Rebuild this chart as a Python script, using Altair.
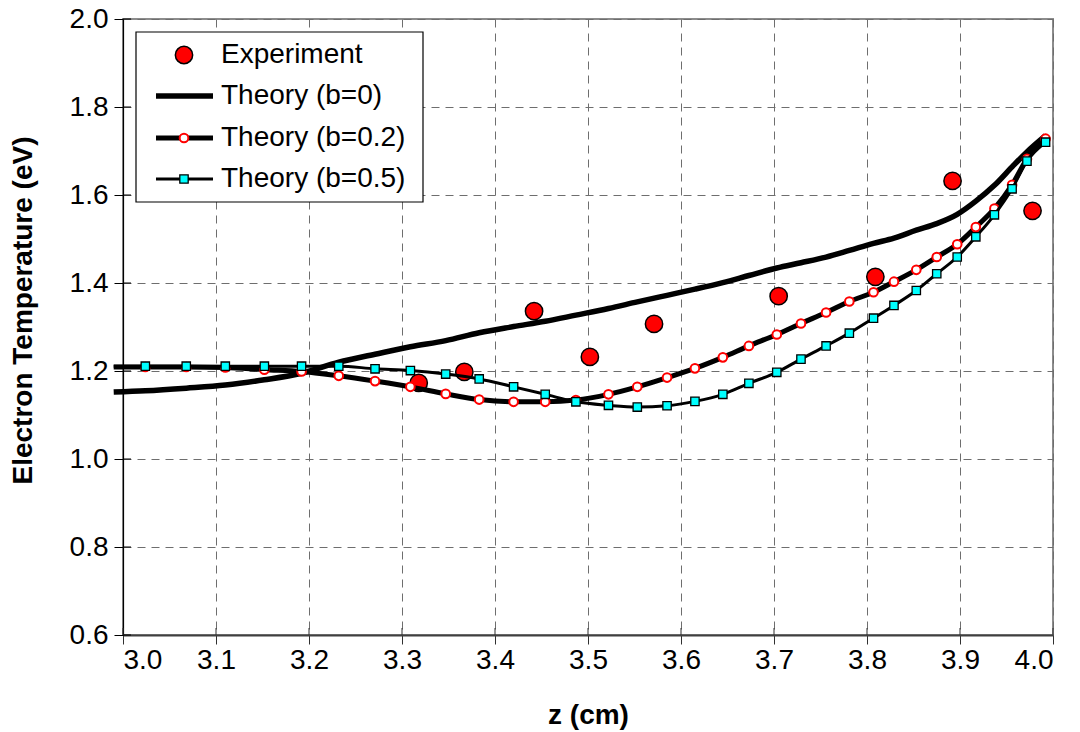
import altair as alt
import pandas as pd

# ---------------- data ----------------
z_exp = [3.318, 3.367, 3.442, 3.502, 3.571, 3.705, 3.809, 3.892, 3.978]
t_exp = [1.173, 1.198, 1.336, 1.232, 1.307, 1.370, 1.414, 1.632, 1.564]

z_theory = [2.990, 3.024, 3.068, 3.110, 3.152, 3.192, 3.232, 3.271, 3.309, 3.347,
            3.383, 3.420, 3.454, 3.487, 3.522, 3.553, 3.585, 3.615, 3.645, 3.673,
            3.703, 3.729, 3.756, 3.781, 3.807, 3.829, 3.853, 3.875, 3.897, 3.917,
            3.937, 3.956, 3.972, 3.992]

t_b0 = [1.152, 1.155, 1.161, 1.168, 1.180, 1.195, 1.220, 1.238, 1.255, 1.269,
        1.287, 1.301, 1.313, 1.327, 1.342, 1.357, 1.372, 1.386, 1.401, 1.417,
        1.434, 1.446, 1.459, 1.474, 1.490, 1.502, 1.520, 1.535, 1.556, 1.586,
        1.622, 1.664, 1.698, 1.735]

t_b02 = [1.209, 1.209, 1.209, 1.208, 1.203, 1.199, 1.189, 1.177, 1.164, 1.148,
         1.135, 1.130, 1.130, 1.134, 1.147, 1.164, 1.185, 1.206, 1.231, 1.257,
         1.283, 1.308, 1.333, 1.358, 1.379, 1.403, 1.430, 1.459, 1.488, 1.527,
         1.569, 1.623, 1.682, 1.728]

t_b05 = [1.211, 1.211, 1.211, 1.211, 1.211, 1.211, 1.211, 1.205, 1.201, 1.193,
         1.182, 1.164, 1.147, 1.130, 1.122, 1.118, 1.121, 1.131, 1.147, 1.172,
         1.197, 1.227, 1.257, 1.286, 1.320, 1.349, 1.383, 1.421, 1.459, 1.505,
         1.555, 1.614, 1.677, 1.720]

x_ticks = [3.0, 3.1, 3.2, 3.3, 3.4, 3.5, 3.6, 3.7, 3.8, 3.9, 4.0]
y_ticks = [0.6, 0.8, 1.0, 1.2, 1.4, 1.6, 1.8, 2.0]

legend_labels = ["Experiment", "Theory (b=0)", "Theory (b=0.2)", "Theory (b=0.5)"]

# ---------------- tables ----------------
df_exp = pd.DataFrame({"z": z_exp, "T": t_exp})
df_b0 = pd.DataFrame({"z": z_theory, "T": t_b0})
df_b02 = pd.DataFrame({"z": z_theory, "T": t_b02})
df_b05 = pd.DataFrame({"z": z_theory, "T": t_b05})
df_xt = pd.DataFrame({"z": x_ticks})
df_yt = pd.DataFrame({"T": y_ticks})

FONT = "Liberation Sans"
W, H = 930, 616

x_scale = alt.Scale(domain=[3.0, 4.0], nice=False, zero=False)
y_scale = alt.Scale(domain=[0.6, 2.0], nice=False, zero=False)

x_axis = alt.Axis(title="z (cm)", values=x_ticks, format=".1f", grid=True,
                  gridDash=[8, 6], gridColor="#6e6e6e", gridWidth=1,
                  domainColor="#404040", domainWidth=2,
                  tickColor="#303030", tickSize=9, tickWidth=1,
                  labelPadding=2, labelFontSize=28, labelFont=FONT, labelColor="black",
                  titleFontSize=28, titleFont=FONT, titleFontWeight="bold", titleColor="black",
                  titleY=80, titleBaseline="middle")
y_axis = alt.Axis(title="Electron Temperature (eV)", values=y_ticks, format=".1f", grid=True,
                  gridDash=[8, 6], gridColor="#6e6e6e", gridWidth=1,
                  domainColor="black", domainWidth=1.2,
                  tickColor="black", tickSize=9, tickWidth=1,
                  labelPadding=6, labelFontSize=28, labelFont=FONT, labelColor="black",
                  titleFontSize=28, titleFont=FONT, titleFontWeight="bold", titleColor="black",
                  titleX=-100, titleY=291, titleAngle=270, titleAlign="center",
                  titleBaseline="middle")

X = alt.X("z:Q", scale=x_scale, axis=x_axis)
Y = alt.Y("T:Q", scale=y_scale, axis=y_axis)

exp_pts = alt.Chart(df_exp).mark_point(shape="circle", filled=True, fill="#FF0000",
                                       stroke="black", strokeWidth=1.5, size=300,
                                       opacity=1).encode(x=X, y=Y)

line_b0 = alt.Chart(df_b0).mark_line(color="black", strokeWidth=5.5,
                                     interpolate="monotone").encode(x=X, y=Y)

line_b02 = alt.Chart(df_b02).mark_line(color="black", strokeWidth=5,
                                       interpolate="monotone").encode(x=X, y=Y)
pts_b02 = alt.Chart(df_b02).transform_filter("datum.z >= 3").mark_point(
    shape="circle", filled=True, fill="white", stroke="#FF0000", strokeWidth=2,
    size=75, opacity=1).encode(x=X, y=Y)

line_b05 = alt.Chart(df_b05).mark_line(color="black", strokeWidth=3,
                                       interpolate="monotone").encode(x=X, y=Y)
pts_b05 = alt.Chart(df_b05).transform_filter("datum.z >= 3").mark_point(
    shape="square", filled=True, fill="#00FFFF", stroke="black", strokeWidth=1.3,
    size=70, opacity=1).encode(x=X, y=Y)

# inner halves of the crossing tick marks
inner_y = alt.Chart(df_yt).mark_rule(color="black", strokeWidth=1).encode(
    y=Y, x=alt.value(0), x2=alt.value(8))
inner_x = alt.Chart(df_xt).mark_rule(color="#303030", strokeWidth=1).encode(
    x=X, y=alt.value(H - 7), y2=alt.value(H))

# ---------------- manual legend ----------------
one = alt.Data(values=[{}])
leg_box = alt.Chart(one).mark_rect(fill="white", stroke="black", strokeWidth=1.2).encode(
    x=alt.value(13), x2=alt.value(300), y=alt.value(13), y2=alt.value(183))

row_y = [36, 77, 119, 160]
sym_x0, sym_x1, sym_xc, text_x = 33, 90, 61, 98

leg_layers = [leg_box]
for lab, ry in zip(legend_labels, row_y):
    leg_layers.append(alt.Chart(one).mark_text(align="left", baseline="middle", font=FONT,
                                               fontSize=28, color="black").encode(
        x=alt.value(text_x), y=alt.value(ry), text=alt.value(lab)))

leg_layers.append(alt.Chart(one).mark_point(shape="circle", filled=True, fill="#FF0000",
                                            stroke="black", strokeWidth=1.5, size=300,
                                            opacity=1).encode(
    x=alt.value(sym_xc), y=alt.value(row_y[0])))
leg_layers.append(alt.Chart(one).mark_rule(color="black", strokeWidth=5.5).encode(
    x=alt.value(sym_x0), x2=alt.value(sym_x1), y=alt.value(row_y[1])))
leg_layers.append(alt.Chart(one).mark_rule(color="black", strokeWidth=5).encode(
    x=alt.value(sym_x0), x2=alt.value(sym_x1), y=alt.value(row_y[2])))
leg_layers.append(alt.Chart(one).mark_point(shape="circle", filled=True, fill="white",
                                            stroke="#FF0000", strokeWidth=2, size=75,
                                            opacity=1).encode(
    x=alt.value(sym_xc), y=alt.value(row_y[2])))
leg_layers.append(alt.Chart(one).mark_rule(color="black", strokeWidth=3).encode(
    x=alt.value(sym_x0), x2=alt.value(sym_x1), y=alt.value(row_y[3])))
leg_layers.append(alt.Chart(one).mark_point(shape="square", filled=True, fill="#00FFFF",
                                            stroke="black", strokeWidth=1.3, size=70,
                                            opacity=1).encode(
    x=alt.value(sym_xc), y=alt.value(row_y[3])))

chart = alt.layer(exp_pts, line_b0, line_b02, pts_b02, line_b05, pts_b05,
                  inner_y, inner_x, *leg_layers).properties(
    width=W, height=H,
    autosize=alt.AutoSizeParams(type="none"),
    padding={"left": 123, "top": 19, "right": 27, "bottom": 97},
    background="white",
).configure_view(stroke="#8c8c8c", strokeWidth=2)

chart.save("out.html", embed_options={"renderer": "svg", "actions": False})
